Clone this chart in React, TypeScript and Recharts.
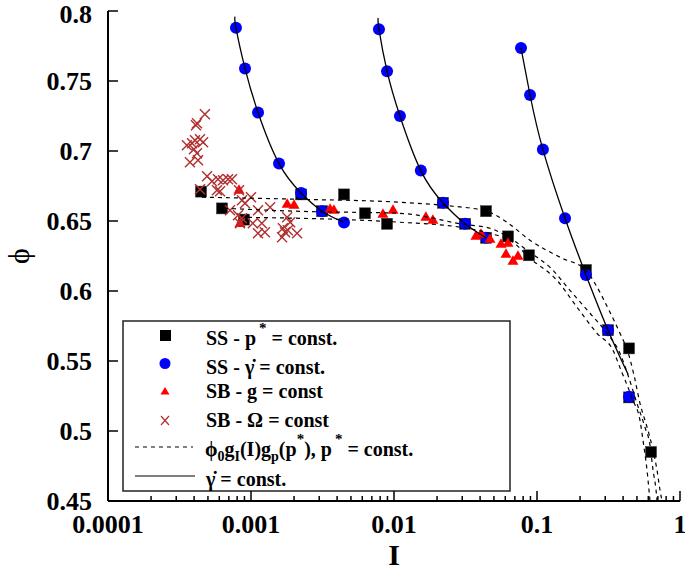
import React from 'react'
import { ScatterChart, Scatter, XAxis, YAxis, Customized } from 'recharts'

const FONT = '"Liberation Serif", "Times New Roman", serif'

// axis ticks
const MAJOR_X = [0.0001, 0.001, 0.01, 0.1, 1]
const X_LABELS = ['0.0001', '0.001', '0.01', '0.1', '1']
const MINOR_X = [0.0001, 0.001, 0.01, 0.1].flatMap((d) => [2, 3, 4, 5, 6, 7, 8, 9].map((m) => m * d))
const Y_TICKS = [0.45, 0.5, 0.55, 0.6, 0.65, 0.7, 0.75, 0.8]
const Y_LABELS = ['0.45', '0.5', '0.55', '0.6', '0.65', '0.7', '0.75', '0.8']

// SS - p* = const. (black squares)  [I, phi]
const ssPressure: [number, number][] = [
  [0.000447, 0.671], [0.000627, 0.659], [0.000893, 0.651],
  [0.00224, 0.669], [0.00314, 0.657], [0.00447, 0.669], [0.00627, 0.6555], [0.00894, 0.648],
  [0.022, 0.663], [0.0314, 0.648], [0.044, 0.657], [0.044, 0.638], [0.0627, 0.639], [0.0879, 0.6255],
  [0.22, 0.615], [0.314, 0.572], [0.44, 0.559], [0.44, 0.524], [0.627, 0.485],
]

// SS - gamma dot = const. (blue circles)
const ssRate1: [number, number][] = [
  [0.000785, 0.788], [0.000908, 0.759], [0.00112, 0.7275], [0.00157, 0.691],
  [0.00224, 0.67], [0.00314, 0.657], [0.00447, 0.649],
]
const ssRate2: [number, number][] = [
  [0.00785, 0.787], [0.00894, 0.757], [0.011, 0.725], [0.0154, 0.686],
  [0.022, 0.663], [0.0314, 0.648], [0.044, 0.638],
]
const ssRate3: [number, number][] = [
  [0.0773, 0.7735], [0.0894, 0.74], [0.11, 0.701], [0.157, 0.652],
  [0.22, 0.6115], [0.314, 0.572], [0.44, 0.5245],
]

// SB - g = const (red triangles)
const sbGravity: [number, number][] = [
  [0.000824, 0.6726], [0.000838, 0.649],
  [0.00179, 0.6626], [0.002, 0.6619], [0.00357, 0.6591], [0.0038, 0.6584],
  [0.00837, 0.6555], [0.00984, 0.6584], [0.0167, 0.6534], [0.0187, 0.6512],
  [0.0374, 0.6398], [0.0406, 0.6412], [0.0469, 0.6377], [0.056, 0.6341],
  [0.0627, 0.6348], [0.0607, 0.6269], [0.0679, 0.6219], [0.0736, 0.6255],
]

// SB - Omega = const (crosses)
const sbOmega: [number, number][] = [
  [0.000476, 0.7262], [0.000419, 0.7198], [0.000412, 0.7184], [0.000356, 0.7041],
  [0.000387, 0.7055], [0.000406, 0.7076], [0.00044, 0.7084], [0.000462, 0.7062],
  [0.000399, 0.7012], [0.000419, 0.6984], [0.000374, 0.6919], [0.000426, 0.6934],
  [0.000493, 0.6819], [0.000534, 0.6784], [0.000588, 0.6798], [0.000637, 0.6791],
  [0.000691, 0.6798], [0.000736, 0.6798], [0.000578, 0.6719], [0.000607, 0.6712],
  [0.00044, 0.6726], [0.000824, 0.6719], [0.001, 0.6669], [0.000865, 0.6648],
  [0.000908, 0.6626], [0.000713, 0.6576], [0.000811, 0.6541], [0.000865, 0.6519],
  [0.000838, 0.6484], [0.00112, 0.6576], [0.00136, 0.6598], [0.00103, 0.6484],
  [0.00119, 0.6484], [0.00112, 0.6412], [0.00125, 0.6419], [0.00179, 0.6527],
  [0.00188, 0.6491], [0.00167, 0.6448], [0.00181, 0.6434], [0.00165, 0.6384],
  [0.0021, 0.6412], [0.00173, 0.6419],
]

// phi0 gI(I) gp(p*), p* = const. (dashed)
const fitHigh: [number, number][] = [
  [0.000454, 0.667], [0.0022, 0.6655], [0.011, 0.6634], [0.022, 0.6612], [0.0447, 0.6569],
  [0.0617, 0.6491], [0.0893, 0.6362], [0.145, 0.6241], [0.22, 0.6148], [0.2586, 0.6041],
  [0.3137, 0.5877], [0.3805, 0.5698], [0.433, 0.5562], [0.477, 0.5398], [0.525, 0.5198],
  [0.597, 0.5005], [0.648, 0.4862], [0.691, 0.4719], [0.725, 0.4577], [0.748, 0.45],
]
const fitMid: [number, number][] = [
  [0.000648, 0.6591], [0.0022, 0.6569], [0.011, 0.6555], [0.0304, 0.6477], [0.0469, 0.6448],
  [0.0648, 0.6377], [0.0893, 0.6276], [0.1233, 0.6169], [0.17, 0.6005], [0.2348, 0.5841],
  [0.3087, 0.5698], [0.3805, 0.5555], [0.426, 0.542], [0.5, 0.5198], [0.569, 0.5026],
  [0.617, 0.4898], [0.648, 0.4719], [0.68, 0.4577], [0.691, 0.45],
]
const fitLow: [number, number][] = [
  [0.000953, 0.6526], [0.011, 0.6491], [0.0324, 0.6448], [0.0469, 0.6412], [0.068, 0.6348],
  [0.0893, 0.6234], [0.138, 0.6076], [0.1905, 0.5884], [0.2628, 0.5698], [0.34, 0.5577],
  [0.3867, 0.5434], [0.469, 0.522], [0.525, 0.5076], [0.551, 0.4934], [0.588, 0.4719],
  [0.607, 0.4577], [0.617, 0.45],
]

// gamma dot = const. (solid)
const rateLine1: [number, number][] = [[0.000773, 0.796], ...ssRate1]
const rateLine2: [number, number][] = [[0.00776, 0.795], ...ssRate2]
const rateLine3: [number, number][] = [...ssRate3.slice(0, 6), [0.433, 0.5405]]

const pts = (arr: [number, number][]) => arr.map(([x, y]) => ({ x, y }))

const Square = ({ cx, cy }: any) => <rect x={cx - 5.5} y={cy - 5.5} width={11} height={11} fill="#000" stroke="#333" strokeWidth={0.5} />
const Dot = ({ cx, cy }: any) => <circle cx={cx} cy={cy} r={6} fill="#0000ff" />
const Tri = ({ cx, cy }: any) => (
  <polygon points={`${cx},${cy - 5} ${cx - 5.5},${cy + 4.5} ${cx + 5.5},${cy + 4.5}`} fill="#ff0000" />
)
const Cross = ({ cx, cy }: any) => (
  <g stroke="#b03030" strokeWidth={1.4}>
    <line x1={cx - 5} y1={cy - 5} x2={cx + 5} y2={cy + 5} />
    <line x1={cx - 5} y1={cy + 5} x2={cx + 5} y2={cy - 5} />
  </g>
)
const NoShape = () => <g />

const BottomTick = ({ x, y, payload }: any) => {
  const i = MAJOR_X.indexOf(payload.value)
  const len = i >= 0 ? 10 : 5
  return (
    <g>
      <line x1={x} x2={x} y1={y} y2={y - len} stroke="#000" strokeWidth={1.5} />
      {i >= 0 && (
        <text x={x} y={y + 31.5} textAnchor="middle" fontSize={26} fontWeight="bold" fontFamily={FONT} fill="#000">
          {X_LABELS[i]}
        </text>
      )}
    </g>
  )
}
const TopTick = ({ x, y, payload }: any) => {
  const len = MAJOR_X.indexOf(payload.value) >= 0 ? 10 : 5
  return <line x1={x} x2={x} y1={y} y2={y + len} stroke="#000" strokeWidth={1.5} />
}
const LeftTick = ({ x, y, payload }: any) => {
  const i = Y_TICKS.indexOf(payload.value)
  // keep the top label inside the picture
  const base = Math.max(y + 9, 23)
  return (
    <g>
      <line x1={x} x2={x + 10} y1={y} y2={y} stroke="#000" strokeWidth={1.5} />
      <text x={x - 16} y={base} textAnchor="end" fontSize={26} fontWeight="bold" fontFamily={FONT} fill="#000">
        {Y_LABELS[i]}
      </text>
    </g>
  )
}
const RightTick = ({ x, y }: any) => <line x1={x} x2={x - 10} y1={y} y2={y} stroke="#000" strokeWidth={1.5} />

const Overlay = () => (
  <g fontFamily={FONT} fill="#000">
    <text x={394} y={565} textAnchor="middle" fontSize={30} fontWeight="bold">I</text>
    <g transform="translate(19 256) rotate(-90)">
      <text x={0} y={10} textAnchor="middle" fontSize={30}>ϕ</text>
    </g>
    <rect x={123} y={321} width={387} height={170} fill="none" stroke="#222" strokeWidth={1.5} />
    <rect x={160} y={330} width={11} height={11} fill="#000" />
    <circle cx={165} cy={363.5} r={5.5} fill="#0000ff" />
    <polygon points="165,387 160.5,394.5 169.5,394.5" fill="#ff0000" />
    <g stroke="#b03030" strokeWidth={1.2}>
      <line x1={161} y1={416} x2={169} y2={425} />
      <line x1={161} y1={425} x2={169} y2={416} />
    </g>
    <line x1={135} x2={193} y1={447} y2={447} stroke="#000" strokeWidth={1} strokeDasharray="4 4" />
    <line x1={135} x2={195} y1={476} y2={476} stroke="#000" strokeWidth={1.2} />
    <g fontSize={20} fontWeight="bold">
      <text x={206} y={345}>
        SS - p<tspan dx={3} dy={-12} fontSize={15}>*</tspan><tspan dy={12}> = const.</tspan>
      </text>
      <text x={206} y={374}>SS - γ̇ = const.</text>
      <text x={206} y={398}>SB - g = const</text>
      <text x={206} y={427}>SB - Ω = const</text>
      <text x={205} y={456}>
        ϕ<tspan dy={5} fontSize={14}>0</tspan>
        <tspan dy={-5}>g</tspan><tspan dy={5} fontSize={14}>I</tspan>
        <tspan dy={-5}>(I)g</tspan><tspan dy={5} fontSize={14}>p</tspan>
        <tspan dy={-5}>(p</tspan><tspan dy={-12} fontSize={15}>*</tspan>
        <tspan dy={12}>), p</tspan><tspan dx={3} dy={-12} fontSize={15}>*</tspan>
        <tspan dy={12}> = const.</tspan>
      </text>
      <text x={206} y={486}>γ̇ = const.</text>
    </g>
  </g>
)

export default function App() {
  const dashed = { stroke: '#000', strokeWidth: 1.2, strokeDasharray: '4 4' }
  const solid = { stroke: '#000', strokeWidth: 1.3 }
  return (
    <div style={{ position: 'absolute', left: 0, top: 0, width: 685, height: 572, background: '#fff', fontFamily: FONT }}>
      <ScatterChart width={685} height={572} margin={{ top: 11, right: 5, bottom: 0, left: 0 }}>
        <XAxis
          xAxisId="b"
          dataKey="x"
          type="number"
          scale="log"
          domain={[0.0001, 1]}
          allowDataOverflow
          ticks={[...MAJOR_X, ...MINOR_X].sort((a, b) => a - b)}
          interval={0}
          height={71}
          tickSize={0}
          tickMargin={0}
          tick={<BottomTick />}
          tickLine={false}
          axisLine={{ stroke: '#000', strokeWidth: 2 }}
        />
        <XAxis
          xAxisId="t"
          orientation="top"
          type="number"
          scale="log"
          domain={[0.0001, 1]}
          allowDataOverflow
          ticks={[...MAJOR_X, ...MINOR_X].sort((a, b) => a - b)}
          interval={0}
          height={0}
          tickSize={0}
          tickMargin={0}
          tick={<TopTick />}
          tickLine={false}
          axisLine={{ stroke: '#000', strokeWidth: 2 }}
        />
        <YAxis
          yAxisId="l"
          dataKey="y"
          type="number"
          domain={[0.45, 0.8]}
          allowDataOverflow
          ticks={Y_TICKS}
          interval={0}
          width={108}
          tickSize={0}
          tickMargin={0}
          tick={<LeftTick />}
          tickLine={false}
          axisLine={{ stroke: '#000', strokeWidth: 2 }}
        />
        <YAxis
          yAxisId="r"
          orientation="right"
          type="number"
          domain={[0.45, 0.8]}
          allowDataOverflow
          ticks={Y_TICKS}
          interval={0}
          width={0}
          tickSize={0}
          tickMargin={0}
          tick={<RightTick />}
          tickLine={false}
          axisLine={{ stroke: '#000', strokeWidth: 2 }}
        />
        <Scatter xAxisId="b" yAxisId="l" data={pts(ssPressure)} shape={Square} isAnimationActive={false} />
        <Scatter xAxisId="b" yAxisId="l" data={pts([...ssRate1, ...ssRate2, ...ssRate3])} shape={Dot} isAnimationActive={false} />
        <Scatter xAxisId="b" yAxisId="l" data={pts(sbGravity)} shape={Tri} isAnimationActive={false} />
        <Scatter xAxisId="b" yAxisId="l" data={pts(sbOmega)} shape={Cross} isAnimationActive={false} />
        {[fitHigh, fitMid, fitLow].map((d, i) => (
          <Scatter key={`fit-${i}`} xAxisId="b" yAxisId="l" data={pts(d)} line={dashed} lineJointType="monotoneX" shape={NoShape} isAnimationActive={false} />
        ))}
        {[rateLine1, rateLine2, rateLine3].map((d, i) => (
          <Scatter key={`rate-${i}`} xAxisId="b" yAxisId="l" data={pts(d)} line={solid} lineJointType="natural" shape={NoShape} isAnimationActive={false} />
        ))}
        <Customized component={Overlay} />
      </ScatterChart>
    </div>
  )
}
